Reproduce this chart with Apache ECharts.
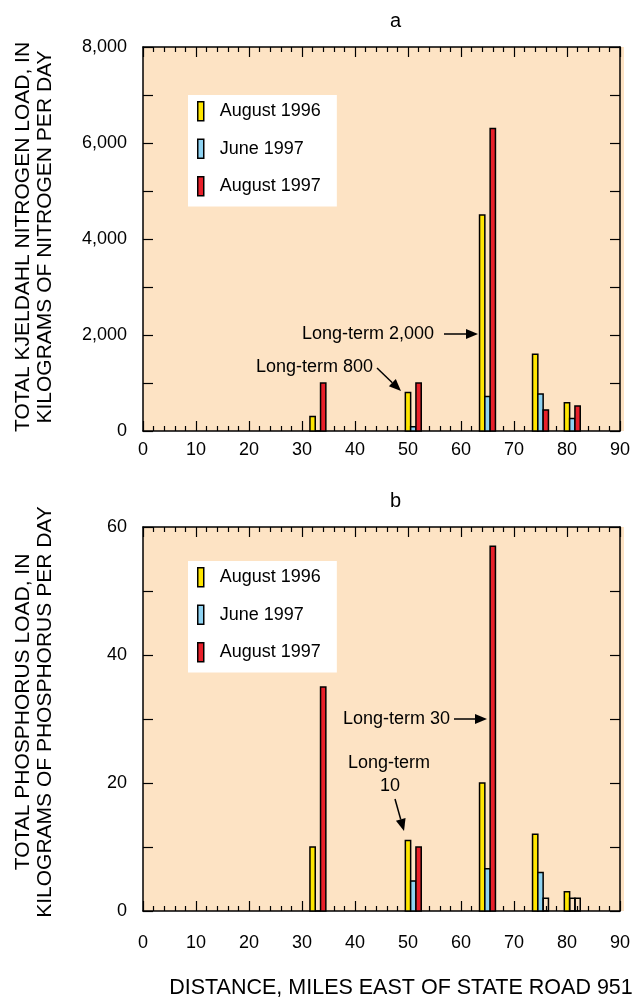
<!DOCTYPE html>
<html>
<head>
<meta charset="utf-8">
<script src="https://cdn.jsdelivr.net/npm/echarts@6/dist/echarts.min.js"></script>
<style>
  html, body { margin: 0; padding: 0; background: #fff; }
  #chart { width: 633px; height: 1000px; }
</style>
</head>
<body>
<div id="chart"></div>
<script>
// site locations (miles east of State Road 951), bars sit at site-1, site, site+1
const siteMiles = [33, 51, 65, 75, 81];
const seriesNames = ['August 1996', 'June 1997', 'August 1997'];
const seriesColors = ['#ffe600', '#8fd3f2', '#e8202a'];

// total Kjeldahl nitrogen load, kg/day
const nitroAug96 = [300, 800, 4500, 1600, 590];
const nitroJun97 = [0, 90, 720, 770, 260];
const nitroAug97 = [1000, 1000, 6300, 440, 520];

// total phosphorus load, kg/day
const phosAug96 = [10, 11, 20, 12, 3];
const phosJun97 = [0, 4.7, 6.6, 6, 2];
const phosAug97 = [35, 10, 57, 2, 2];
// 1 = drawn as open (unfilled) bar
const phosJun97Open = [0, 0, 0, 0, 1];
const phosAug97Open = [0, 0, 0, 1, 1];

// axis ticks (labelled values)
const xTicks = [0, 10, 20, 30, 40, 50, 60, 70, 80, 90];
const nitroTicks = [0, 2000, 4000, 6000, 8000];
const phosTicks = [0, 20, 40, 60];

const FONT = '"Liberation Sans", Arial, sans-serif';
const PEACH = '#fde3c4';
const grids = [
  { left: 143, top: 47, width: 481, height: 384 },
  { left: 143, top: 527, width: 481, height: 384 }
];
const chart = echarts.init(document.getElementById('chart'));

const barData = (values, offset, open) =>
  siteMiles.map((m, i) => [m + offset, values[i], open ? open[i] : 0]);

const renderBar = (params, api) => {
  const x = api.value(0), v = api.value(1), open = api.value(2);
  const p0 = api.coord([x - 0.5, v]);
  const p1 = api.coord([x + 0.5, 0]);
  return {
    type: 'rect',
    shape: { x: p0[0], y: p0[1], width: p1[0] - p0[0], height: p1[1] - p0[1] },
    style: { fill: open ? 'none' : api.visual('color'), stroke: '#000', lineWidth: 1.5 }
  };
};

const makeSeries = (gi, sets) => sets.map((d, k) => ({
  name: seriesNames[k],
  type: 'custom',
  xAxisIndex: gi * 2,
  yAxisIndex: gi * 2,
  itemStyle: { color: seriesColors[k], borderColor: '#000', borderWidth: 1.5 },
  encode: { x: 0, y: 1 },
  data: d,
  renderItem: renderBar,
  silent: true,
  z: 3
}));

const tickLine = { color: '#000', width: 1.2 };

const xAxisPair = (gi, labelMargin) => {
  const common = {
    gridIndex: gi, type: 'value', min: xTicks[0], max: xTicks[xTicks.length - 1],
    interval: xTicks[1] - xTicks[0], z: 1,
    axisLine: { show: true, onZero: false, lineStyle: { color: '#000', width: 1.5 } },
    axisTick: { show: true, inside: true, length: 10, lineStyle: tickLine },
    minorTick: { show: true, splitNumber: 5, length: 5, lineStyle: tickLine },
    splitLine: { show: false }
  };
  return [
    Object.assign({}, common, {
      position: 'bottom',
      axisLabel: { margin: labelMargin, fontSize: 18, color: '#000', fontFamily: FONT }
    }),
    Object.assign({}, common, { position: 'top', axisLabel: { show: false } })
  ];
};

const yAxisPair = (gi, ticks, fmt) => {
  const common = {
    gridIndex: gi, type: 'value', min: ticks[0], max: ticks[ticks.length - 1],
    interval: ticks[1] - ticks[0], z: 1,
    axisLine: { show: true, onZero: false, lineStyle: { color: '#000', width: 1.5 } },
    axisTick: { show: true, inside: true, length: 10, lineStyle: tickLine },
    minorTick: { show: true, splitNumber: 2, length: 10, lineStyle: tickLine },
    splitLine: { show: false }
  };
  return [
    Object.assign({}, common, {
      position: 'left',
      axisLabel: { margin: 16, fontSize: 18, color: '#000', fontFamily: FONT, formatter: fmt }
    }),
    Object.assign({}, common, { position: 'right', axisLabel: { show: false } })
  ];
};

const legendAt = (top) => ({
  left: 188, top: top, orient: 'vertical',
  data: seriesNames, selectedMode: false,
  icon: 'rect', itemWidth: 6, itemHeight: 19, itemGap: 17,
  padding: [6, 16, 10, 9],
  backgroundColor: '#fff',
  itemStyle: { borderColor: '#000', borderWidth: 1.5 },
  textStyle: { fontSize: 18, color: '#000', fontFamily: FONT, padding: [0, 0, 0, 11] }
});

// annotation helpers (pixel positions for the call-out text and arrows)
const arrow = (x1, y1, x2, y2) => {
  const a = Math.atan2(y2 - y1, x2 - x1), L = 12, W = 5;
  const bx = x2 - L * Math.cos(a), by = y2 - L * Math.sin(a);
  return [
    { type: 'line', shape: { x1: x1, y1: y1, x2: bx, y2: by }, style: { stroke: '#000', lineWidth: 1.5 }, silent: true },
    { type: 'polygon', shape: { points: [[x2, y2],
      [bx + W * Math.sin(a), by - W * Math.cos(a)],
      [bx - W * Math.sin(a), by + W * Math.cos(a)]] }, style: { fill: '#000' }, silent: true }
  ];
};
const label = (text, x, y, align) => ({
  type: 'text', x: x, y: y, silent: true,
  style: { text: text, font: '18px ' + FONT, fill: '#000', textAlign: align || 'left', textVerticalAlign: 'middle' }
});
const vTitle = (text, x, y) => ({
  type: 'text', x: x, y: y, rotation: Math.PI / 2, silent: true,
  style: { text: text, font: '21px ' + FONT, fill: '#000', textAlign: 'center', textVerticalAlign: 'middle', lineHeight: 22 }
});
// plot background, kept underneath everything else
const plotBg = (g) => ({
  type: 'rect', z: -10, silent: true,
  shape: { x: g.left, y: g.top, width: g.width, height: g.height },
  style: { fill: PEACH }
});

chart.setOption({
  animation: false,
  backgroundColor: '#fff',
  title: [
    { text: 'a', left: 385, top: 6,
      textStyle: { fontSize: 20, fontWeight: 'normal', color: '#000', fontFamily: FONT } },
    { text: 'b', left: 385, top: 486,
      textStyle: { fontSize: 20, fontWeight: 'normal', color: '#000', fontFamily: FONT } }
  ],
  grid: grids.map(g => Object.assign({ show: false }, g)),
  legend: [legendAt(95), legendAt(561)],
  xAxis: xAxisPair(0, 10).concat(xAxisPair(1, 23)),
  yAxis: yAxisPair(0, nitroTicks, v => v.toLocaleString('en-US'))
    .concat(yAxisPair(1, phosTicks, v => String(v))),
  series: makeSeries(0, [
    barData(nitroAug96, -1), barData(nitroJun97, 0), barData(nitroAug97, 1)
  ]).concat(makeSeries(1, [
    barData(phosAug96, -1), barData(phosJun97, 0, phosJun97Open), barData(phosAug97, 1, phosAug97Open)
  ])),
  graphic: [
    plotBg(grids[0]), plotBg(grids[1]),
    vTitle('TOTAL KJELDAHL NITROGEN LOAD, IN\nKILOGRAMS OF NITROGEN PER DAY', 34, 237),
    vTitle('TOTAL PHOSPHORUS LOAD, IN\nKILOGRAMS OF PHOSPHORUS PER DAY', 34, 712),
    { type: 'text', x: 401, y: 988, silent: true,
      style: { text: 'DISTANCE, MILES EAST OF STATE ROAD 951', font: '21.5px ' + FONT, fill: '#000',
        textAlign: 'center', textVerticalAlign: 'middle' } },
    label('Long-term 800', 373, 367, 'right'),
    label('Long-term 2,000', 434, 334, 'right'),
    label('Long-term 30', 450, 719, 'right'),
    label('Long-term', 389, 763, 'center'),
    label('10', 390, 786, 'center')
  ].concat(arrow(377, 368, 401, 391), arrow(444, 334, 478, 334),
           arrow(454, 719, 487, 719), arrow(395, 799, 404, 831))
});
</script>
</body>
</html>
